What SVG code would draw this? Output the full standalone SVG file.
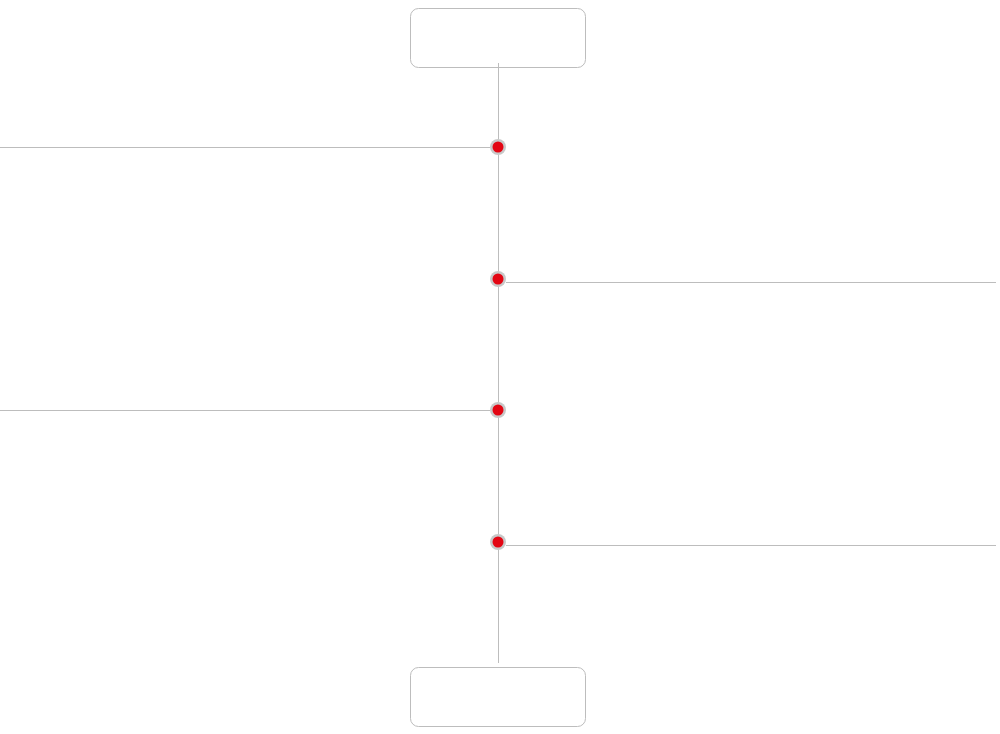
<svg xmlns="http://www.w3.org/2000/svg" width="1000" height="734" viewBox="0 0 1000 734">
<style>
.box{fill:#fff;stroke:#bdbdbd;stroke-width:1}
.ln{stroke:#bdbdbd;stroke-width:1;fill:none}
.ring{fill:#c8c8c8}
.dot{fill:#e30613}
</style>
<rect width="1000" height="734" fill="#fff"/>
<g id="top-node"><rect class="box" x="410.5" y="8.5" width="175" height="59" rx="8"/></g>
<g id="bottom-node"><rect class="box" x="410.5" y="667.5" width="175" height="59" rx="8"/></g>
<g id="connectors">
<line class="ln" x1="498.5" y1="63" x2="498.5" y2="663"/>
<line class="ln" x1="0" y1="147.5" x2="490" y2="147.5"/>
<line class="ln" x1="506" y1="282.5" x2="996" y2="282.5"/>
<line class="ln" x1="0" y1="410.5" x2="490" y2="410.5"/>
<line class="ln" x1="506" y1="545.5" x2="996" y2="545.5"/>
</g>
<g id="dot1"><circle class="ring" cx="498" cy="147" r="8"/><circle class="dot" cx="498" cy="147" r="5.5"/></g>
<g id="dot2"><circle class="ring" cx="498" cy="279" r="8"/><circle class="dot" cx="498" cy="279" r="5.5"/></g>
<g id="dot3"><circle class="ring" cx="498" cy="410" r="8"/><circle class="dot" cx="498" cy="410" r="5.5"/></g>
<g id="dot4"><circle class="ring" cx="498" cy="542" r="8"/><circle class="dot" cx="498" cy="542" r="5.5"/></g>
</svg>
